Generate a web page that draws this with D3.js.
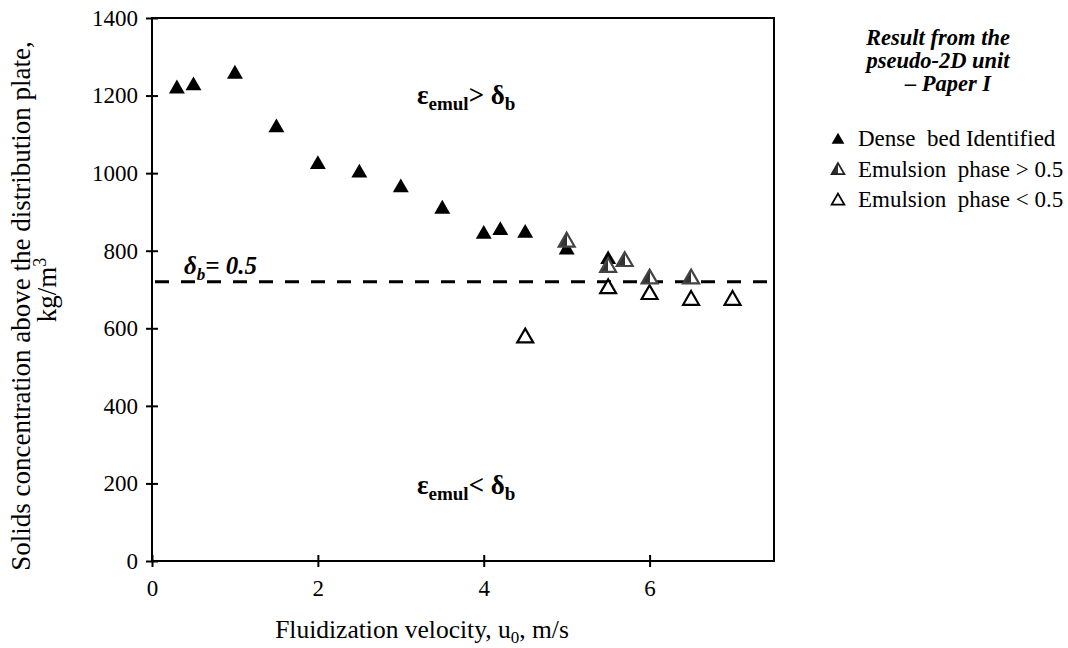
<!DOCTYPE html>
<html><head><meta charset="utf-8">
<script src="https://cdn.jsdelivr.net/npm/d3@7"></script>
<style>body{margin:0;background:#fff}svg{display:block}svg text{font-family:"Liberation Serif","Times New Roman",serif}</style>
</head><body><svg id="c" width="1068" height="648" font-family="Liberation Serif, Times New Roman, serif"></svg>
<script>
const xTicks=[0,2,4,6];
const yTicks=[0,200,400,600,800,1000,1200,1400];
const denseX=[0.3,0.5,1.0,1.5,2.0,2.5,3.0,3.5,4.0,4.2,4.5,5.0,5.5];
const denseY=[1220,1228,1258,1120,1025,1003,965,910,845,855,848,805,780];
const aboveX=[5.0,5.5,5.7,6.0,6.5];
const aboveY=[825,760,775,730,730];
const belowX=[4.5,5.5,6.0,6.5,7.0];
const belowY=[578,705,690,675,675];
const deltaB=720;
const legendTitle=["Result from the","pseudo-2D unit","– Paper I"];
const legendLabels=["Dense\u00a0 bed Identified","Emulsion\u00a0 phase > 0.5","Emulsion\u00a0 phase < 0.5"];

const FF="Liberation Serif, Times New Roman, serif";
const svg=d3.select("#c");
const L=152,R=774,T=18,B=561;
const x=d3.scaleLinear().domain([0,7.5]).range([L,R]);
const y=d3.scaleLinear().domain([0,1400]).range([B,T]);

const defs=svg.append("defs");
const g=defs.append("linearGradient").attr("id","half").attr("x1","0").attr("x2","1").attr("y1","0").attr("y2","0");
g.append("stop").attr("offset","0.5").attr("stop-color","#333");
g.append("stop").attr("offset","0.5").attr("stop-color","#fff");

// frame
svg.append("rect").attr("x",L).attr("y",T).attr("width",R-L).attr("height",B-T).attr("fill","none").attr("stroke","#000").attr("stroke-width",2);

// axes with cross ticks
const xa=svg.append("g").attr("transform",`translate(0,${B})`).call(d3.axisBottom(x).tickValues(xTicks).tickFormat(d3.format("d")).tickSize(6).tickSizeOuter(0));
xa.attr("font-family",FF);
xa.select(".domain").remove();
xa.selectAll(".tick line").attr("y1",-6).attr("stroke-width",2);
xa.selectAll(".tick text").attr("font-size",23).attr("dy",0).attr("y",35);
const ya=svg.append("g").attr("transform",`translate(${L},0)`).call(d3.axisLeft(y).tickValues(yTicks).tickFormat(d3.format("d")).tickSize(6).tickSizeOuter(0));
ya.attr("font-family",FF);
ya.select(".domain").remove();
ya.selectAll(".tick line").attr("x1",6).attr("stroke-width",2);
ya.selectAll(".tick text").attr("font-size",23).attr("x",-14);

// dashed line
svg.append("line").attr("x1",x(0)+3).attr("x2",R).attr("y1",y(deltaB)).attr("y2",y(deltaB)).attr("stroke","#000").attr("stroke-width",3).attr("stroke-dasharray","14,12");

const tri=d3.symbol().type(d3.symbolTriangle).size(110);
function pts(X,Y){return X.map((v,i)=>({x:v,y:Y[i]}));}
svg.append("g").selectAll("path").data(pts(belowX,belowY)).join("path").attr("d",tri)
 .attr("transform",d=>`translate(${x(d.x)},${y(d.y)+1})`).attr("fill","#fff").attr("stroke","#000").attr("stroke-width",2.2);
svg.append("g").selectAll("path").data(pts(denseX,denseY)).join("path").attr("d",tri)
 .attr("transform",d=>`translate(${x(d.x)},${y(d.y)+1})`).attr("fill","#000");
svg.append("g").selectAll("path").data(pts(aboveX,aboveY)).join("path").attr("d",tri)
 .attr("transform",d=>`translate(${x(d.x)},${y(d.y)+1})`).attr("fill","url(#half)").attr("stroke","#444").attr("stroke-width",2.2);

// annotations
function epsText(yy,sym){
 const t=svg.append("text").attr("x",417).attr("y",yy).attr("font-size",27).attr("font-weight","bold");
 t.append("tspan").text("ε");
 t.append("tspan").attr("font-size",19).attr("dy",6).text("emul");
 t.append("tspan").attr("dy",-6).text(sym+" δ");
 t.append("tspan").attr("font-size",19).attr("dy",6).text("b");
}
epsText(104,">");
epsText(494,"<");
const dt=svg.append("text").attr("x",184).attr("y",274).attr("font-size",25).attr("font-weight","bold").attr("font-style","italic");
dt.append("tspan").text("δ");
dt.append("tspan").attr("font-size",17).attr("dy",6).text("b");
dt.append("tspan").attr("dy",-6).text("= 0.5");

// axis titles
svg.append("text").attr("x",422).attr("y",638).attr("text-anchor","middle").attr("font-size",25.5)
 .call(t=>{t.append("tspan").text("Fluidization velocity, u");t.append("tspan").attr("font-size",17).attr("dy",5).text("0");t.append("tspan").attr("dy",-5).text(", m/s");});
const yt=svg.append("text").attr("transform","translate(30,306) rotate(-90)").attr("text-anchor","middle").attr("font-size",27);
yt.text("Solids concentration above the distribution plate,");
const yt2=svg.append("text").attr("transform","translate(56,290) rotate(-90)").attr("text-anchor","middle").attr("font-size",27);
yt2.append("tspan").text("kg/m");yt2.append("tspan").attr("font-size",18).attr("dy",-10).text("3");

// legend
svg.append("g").selectAll("text").data(legendTitle).join("text").attr("x",(d,i)=>i==2?948:938).attr("y",(d,i)=>45+i*23)
 .attr("text-anchor","middle").attr("font-size",22.5).attr("font-weight","bold").attr("font-style","italic").text(d=>d);
const lfill=["#000","url(#half)","#fff"], lstroke=["none","#222","#000"];
const tri2=d3.symbol().type(d3.symbolTriangle).size(70);
legendLabels.forEach((lab,i)=>{
 const yy=139+i*30.5;
 svg.append("path").attr("d",tri2).attr("transform",`translate(838,${yy+1})`).attr("fill",lfill[i]).attr("stroke",lstroke[i]).attr("stroke-width",1.8);
 svg.append("text").attr("x",858).attr("y",yy+7).attr("font-size",23).text(lab);
});
</script></body></html>
